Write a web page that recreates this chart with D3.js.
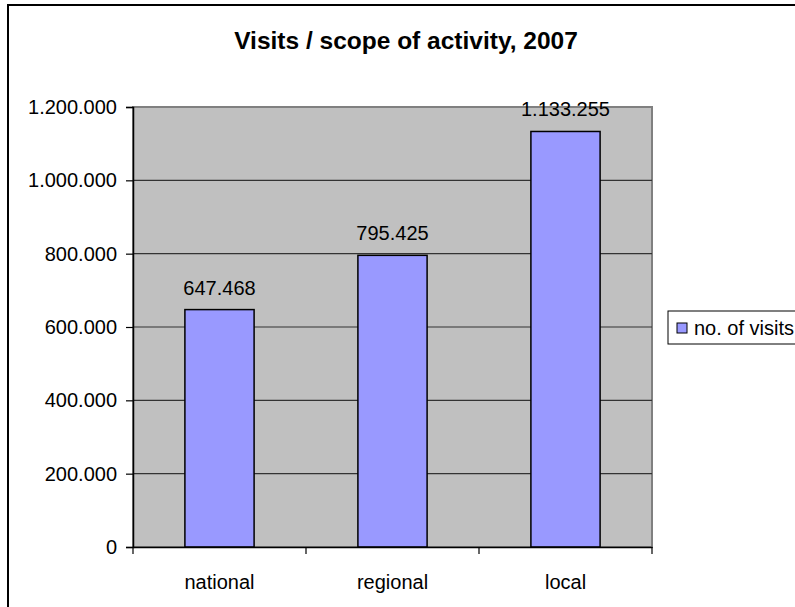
<!DOCTYPE html>
<html>
<head>
<meta charset="utf-8">
<script src="https://cdn.jsdelivr.net/npm/d3@7/dist/d3.min.js"></script>
<style>
  html, body { margin: 0; padding: 0; background: #fff; }
  svg { display: block; font-family: "Liberation Sans", Arial, sans-serif; }
</style>
</head>
<body>
<svg id="chart" width="795" height="607"></svg>
<script>
const categories = ["national", "regional", "local"];
const visits = [647468, 795425, 1133255];
const valueLabels = ["647.468", "795.425", "1.133.255"];
const yTicks = [0, 200000, 400000, 600000, 800000, 1000000, 1200000];
const yTickLabels = ["0", "200.000", "400.000", "600.000", "800.000", "1.000.000", "1.200.000"];
const title = "Visits / scope of activity, 2007";
const seriesName = "no. of visits";

const svg = d3.select("#chart");

// outer chart frame (left + top visible)
svg.append("rect")
  .attr("x", 8).attr("y", 5).attr("width", 820).attr("height", 640)
  .attr("fill", "#fff").attr("stroke", "#000").attr("stroke-width", 2);

const plot = { left: 133, right: 652, top: 107, bottom: 547 };

const x = d3.scaleBand().domain(categories).range([plot.left, plot.right]).paddingInner(0).paddingOuter(0);
const y = d3.scaleLinear().domain([0, 1200000]).range([plot.bottom, plot.top]);

// plot area
svg.append("rect")
  .attr("x", plot.left).attr("y", plot.top)
  .attr("width", plot.right - plot.left).attr("height", plot.bottom - plot.top)
  .attr("fill", "#C0C0C0").attr("stroke", "#808080").attr("stroke-width", 2);

// gridlines
svg.append("g").selectAll("line").data(yTicks.filter(d => d > 0 && d < 1200000)).join("line")
  .attr("x1", plot.left).attr("x2", plot.right)
  .attr("y1", d => y(d)).attr("y2", d => y(d))
  .attr("stroke", "#333").attr("stroke-width", 1.2);

// bars
const bw = x.bandwidth() / 2.5;
svg.append("g").selectAll("rect").data(categories).join("rect")
  .attr("x", (d) => x(d) + (x.bandwidth() - bw) / 2)
  .attr("y", (d, i) => y(visits[i]))
  .attr("width", bw)
  .attr("height", (d, i) => y(0) - y(visits[i]))
  .attr("fill", "#9999FF").attr("stroke", "#000").attr("stroke-width", 1.5);

// value labels
svg.append("g").selectAll("text").data(categories).join("text")
  .attr("x", d => x(d) + x.bandwidth() / 2)
  .attr("y", (d, i) => y(visits[i]) - 15)
  .attr("text-anchor", "middle")
  .attr("font-size", 20).attr("fill", "#000")
  .text((d, i) => valueLabels[i]);

// y axis
const yAxis = d3.axisLeft(y).tickValues(yTicks).tickSize(7).tickPadding(9)
  .tickFormat((d, i) => yTickLabels[i]);
const gy = svg.append("g").attr("transform", `translate(${plot.left},0)`).call(yAxis);
gy.select(".domain").attr("stroke", "#000").attr("stroke-width", 1.5);
gy.selectAll(".tick line").attr("stroke", "#000").attr("stroke-width", 1.2);
gy.selectAll(".tick text").attr("font-size", 20).attr("fill", "#000")
  .attr("font-family", "'Liberation Sans', Arial, sans-serif");

// x axis
const xAxis = d3.axisBottom(x).tickSize(0).tickPadding(0);
const gx = svg.append("g").attr("transform", `translate(0,${plot.bottom})`).call(xAxis);
gx.select(".domain").attr("stroke", "#000").attr("stroke-width", 1.5);
gx.selectAll(".tick text").attr("font-size", 20).attr("fill", "#000")
  .attr("font-family", "'Liberation Sans', Arial, sans-serif")
  .attr("dy", null).attr("y", 42);
// category boundary ticks
const bounds = categories.map(c => x(c)).concat([plot.right]);
svg.append("g").selectAll("line").data(bounds).join("line")
  .attr("x1", d => d).attr("x2", d => d)
  .attr("y1", plot.bottom).attr("y2", plot.bottom + 7)
  .attr("stroke", "#000").attr("stroke-width", 1.2);

// title
svg.append("text")
  .attr("x", 406).attr("y", 49)
  .attr("text-anchor", "middle")
  .attr("font-size", 24.5).attr("font-weight", "bold").attr("fill", "#000")
  .text(title);

// legend
const lg = svg.append("g");
lg.append("rect").attr("x", 668).attr("y", 311).attr("width", 140).attr("height", 33)
  .attr("fill", "#fff").attr("stroke", "#000").attr("stroke-width", 1);
lg.append("rect").attr("x", 677).attr("y", 323).attr("width", 10).attr("height", 10)
  .attr("fill", "#9999FF").attr("stroke", "#000").attr("stroke-width", 1);
lg.append("text").attr("x", 694).attr("y", 335)
  .attr("font-size", 20).attr("fill", "#000").text(seriesName);
</script>
</body>
</html>
